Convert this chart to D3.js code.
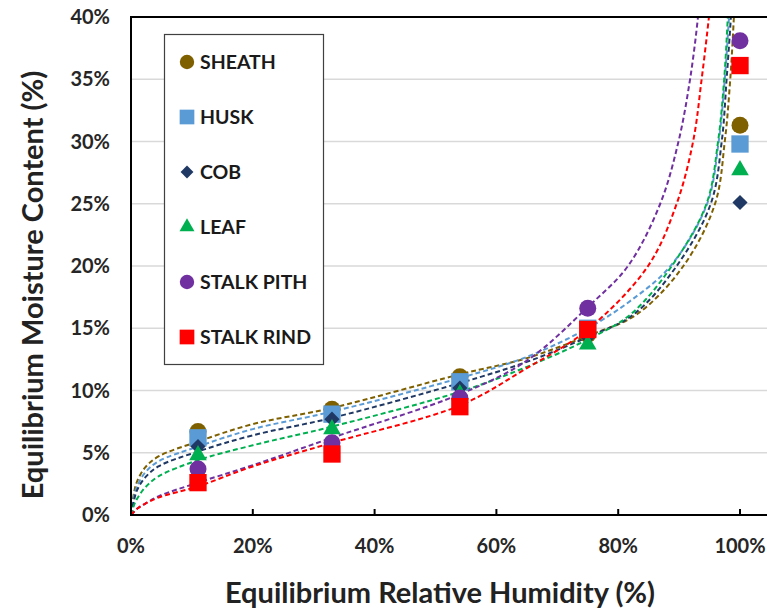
<!DOCTYPE html>
<html>
<head>
<meta charset="utf-8">
<script src="https://cdn.jsdelivr.net/npm/d3@7"></script>
<style>
  body { margin: 0; background: #fff; }
  svg { display: block; font-family: Lato, "Open Sans", sans-serif; }
</style>
</head>
<body>
<div id="chart"></div>
<script>
// measured points (relative humidity %, moisture content %)
let rhLevels = [11, 33, 54, 75, 100];

let sheathPts = [6.7, 8.5, 11.1, 14.5, 31.3];
let huskPts = [6.2, 8.1, 10.7, 15.0, 29.8];
let cobPts = [5.5, 7.7, 10.2, 14.3, 25.1];
let leafPts = [4.8, 6.9, 9.7, 13.7, 27.7];
let pithPts = [3.7, 5.8, 9.4, 16.6, 38.1];
let rindPts = [2.6, 4.9, 8.7, 14.9, 36.1];

// fitted curves: [RH %, EMC %]
let sheathFit = [[0, 0], [0.5, 1.8], [1, 2.7], [2.3, 3.8], [4.5, 4.7], [11, 5.9], [20, 7.3], [33, 8.6], [54, 11.3], [65, 12.6], [75, 14.4], [83, 16.1], [90.7, 20], [95.9, 25], [97.5, 30], [98.4, 35], [99, 40], [99.3, 43]];
let huskFit = [[0, 0], [0.5, 1.5], [1, 2.3], [2.3, 3.4], [4.5, 4.3], [11, 5.5], [20, 6.9], [33, 8.3], [54, 11.0], [65, 12.7], [75, 15.0], [82, 17.2], [88.6, 20], [94.6, 25], [96.5, 30], [97.5, 35], [98.2, 40], [98.6, 43]];
let cobFit = [[0, 0], [0.5, 1.2], [1, 2.0], [2.3, 3.0], [4.5, 3.9], [11, 5.1], [20, 6.4], [33, 7.8], [54, 10.6], [65, 12.3], [75, 14.3], [82.5, 16.1], [89.6, 20], [95.2, 25], [97, 30], [97.8, 35], [98.5, 40], [98.8, 43]];
let leafFit = [[0, 0], [0.5, 0.8], [1, 1.3], [2.3, 2.2], [4.5, 3.1], [11, 4.4], [20, 5.6], [33, 7.1], [54, 9.9], [65, 11.9], [75, 14.1], [82, 16.1], [88.8, 20], [94.5, 25], [96.4, 30], [97.4, 35], [98, 40], [98.3, 43]];
let pithFit = [[0, 0], [1, 0.5], [2.3, 0.9], [4.5, 1.5], [11, 2.6], [20, 4.0], [33, 6.2], [54, 9.7], [65, 12.4], [75, 16.7], [81.6, 20], [86.9, 25], [89.9, 30], [91.8, 35], [93.1, 40], [93.6, 43]];
let rindFit = [[0, 0], [1, 0.5], [2.3, 0.9], [4.5, 1.4], [11, 2.3], [20, 3.9], [33, 5.8], [54, 8.8], [65, 11.8], [75, 14.9], [84.9, 20], [89.6, 25], [92.3, 30], [93.7, 35], [94.9, 40], [95.5, 43]];

let seriesNames = ["SHEATH", "HUSK", "COB", "LEAF", "STALK PITH", "STALK RIND"];
let seriesColors = ["#7f6000", "#5b9bd5", "#1f3864", "#00b050", "#7030a0", "#ff0000"];
let seriesShapes = ["circle", "square", "diamond", "triangle", "circle", "square"];
let seriesPts = [sheathPts, huskPts, cobPts, leafPts, pithPts, rindPts];
let seriesFits = [sheathFit, huskFit, cobFit, leafFit, pithFit, rindFit];

let xTicks = [0, 20, 40, 60, 80, 100];
let yTicks = [0, 5, 10, 15, 20, 25, 30, 35, 40];

let margin = { top: 17, left: 131 };
let width = 609;
let height = 498;

let svg = d3.select("#chart").append("svg")
    .attr("width", 767)
    .attr("height", 612);

let x = d3.scaleLinear().domain([0, 100]).range([margin.left, margin.left + width]);
let y = d3.scaleLinear().domain([0, 40]).range([margin.top + height, margin.top]);

// diamond = square turned 45 degrees
let symbolFor = {
    circle: d3.symbolCircle,
    square: d3.symbolSquare,
    diamond: d3.symbolSquare,
    triangle: d3.symbolTriangle,
};
let sizeFor = { circle: 227, square: 300, diamond: 115, triangle: 135 };
let rotFor = { circle: 0, square: 0, diamond: 45, triangle: 0 };

// grid lines
svg.append("g")
    .selectAll("line")
    .data(yTicks.slice(1))
    .join("line")
    .attr("x1", x(0))
    .attr("x2", 767)
    .attr("y1", (d) => y(d))
    .attr("y2", (d) => y(d))
    .attr("stroke", "#d9d9d9")
    .attr("stroke-width", 1.5);

// clip the curves to the plot area
svg.append("clipPath")
    .attr("id", "plot-clip")
    .append("rect")
    .attr("x", x(0))
    .attr("y", y(40))
    .attr("width", 767 - x(0))
    .attr("height", height);

let line = d3.line()
    .x((d) => x(d[0]))
    .y((d) => y(d[1]))
    .curve(d3.curveCatmullRom.alpha(0.5));

// fit curves
svg.append("g")
    .attr("clip-path", "url(#plot-clip)")
    .selectAll("path")
    .data(seriesFits)
    .join("path")
    .attr("fill", "none")
    .attr("stroke", (d, i) => seriesColors[i])
    .attr("stroke-width", 2)
    .attr("stroke-dasharray", "5,3")
    .attr("d", line);

// measured markers
seriesPts.forEach(function (pts, i) {
    let shape = seriesShapes[i];
    svg.append("g")
        .selectAll("path")
        .data(pts)
        .join("path")
        .attr("transform", (d, j) => `translate(${x(rhLevels[j])},${y(d)}) rotate(${rotFor[shape]})`)
        .attr("d", d3.symbol().type(symbolFor[shape]).size(sizeFor[shape]))
        .attr("fill", seriesColors[i]);
});

// plot border / axes
svg.append("line")
    .attr("x1", x(0)).attr("x2", 767)
    .attr("y1", y(40)).attr("y2", y(40))
    .attr("stroke", "#000").attr("stroke-width", 2);
svg.append("line")
    .attr("x1", x(0)).attr("x2", 767)
    .attr("y1", y(0)).attr("y2", y(0))
    .attr("stroke", "#000").attr("stroke-width", 2);
svg.append("line")
    .attr("x1", x(0)).attr("x2", x(0))
    .attr("y1", y(40) - 1).attr("y2", y(0) + 1)
    .attr("stroke", "#000").attr("stroke-width", 2);

// x ticks
svg.append("g")
    .selectAll("line")
    .data(xTicks.slice(1))
    .join("line")
    .attr("x1", (d) => x(d)).attr("x2", (d) => x(d))
    .attr("y1", y(0)).attr("y2", y(0) - 6)
    .attr("stroke", "#000").attr("stroke-width", 2);

svg.append("g")
    .selectAll("text")
    .data(xTicks)
    .join("text")
    .attr("x", (d) => x(d))
    .attr("y", 553)
    .attr("text-anchor", "middle")
    .attr("font-size", 20)
    .attr("font-weight", "bold")
    .attr("fill", "#262626")
    .text((d) => d + "%");

svg.append("g")
    .selectAll("text")
    .data(yTicks)
    .join("text")
    .attr("x", 110)
    .attr("y", (d) => y(d) + 7)
    .attr("text-anchor", "end")
    .attr("font-size", 20)
    .attr("font-weight", "bold")
    .attr("fill", "#262626")
    .text((d) => d + "%");

// axis titles
svg.append("text")
    .attr("x", 440)
    .attr("y", 603)
    .attr("text-anchor", "middle")
    .attr("font-size", 29)
    .attr("font-weight", "bold")
    .attr("fill", "#222")
    .text("Equilibrium Relative Humidity (%)");

svg.append("text")
    .attr("transform", "rotate(-90)")
    .attr("x", -285)
    .attr("y", 43)
    .attr("text-anchor", "middle")
    .attr("font-size", 29)
    .attr("font-weight", "bold")
    .attr("fill", "#222")
    .text("Equilibrium Moisture Content (%)");

// legend
let legend = svg.append("g");
legend.append("rect")
    .attr("x", 164.5)
    .attr("y", 34.5)
    .attr("width", 159)
    .attr("height", 330)
    .attr("fill", "#fff")
    .attr("stroke", "#404040")
    .attr("stroke-width", 1.2);

let legendItems = legend.selectAll("g.item")
    .data(seriesNames)
    .join("g")
    .attr("class", "item")
    .attr("transform", (d, i) => `translate(187,${62 + i * 55})`);

legendItems.append("path")
    .attr("transform", (d, i) => `rotate(${rotFor[seriesShapes[i]]})`)
    .attr("d", (d, i) => d3.symbol().type(symbolFor[seriesShapes[i]]).size(sizeFor[seriesShapes[i]] * 0.72)())
    .attr("fill", (d, i) => seriesColors[i]);

legendItems.append("text")
    .attr("x", 13)
    .attr("y", 7)
    .attr("font-size", 19.5)
    .attr("font-weight", "bold")
    .attr("fill", "#1a1a1a")
    .text((d) => d);
</script>
</body>
</html>
